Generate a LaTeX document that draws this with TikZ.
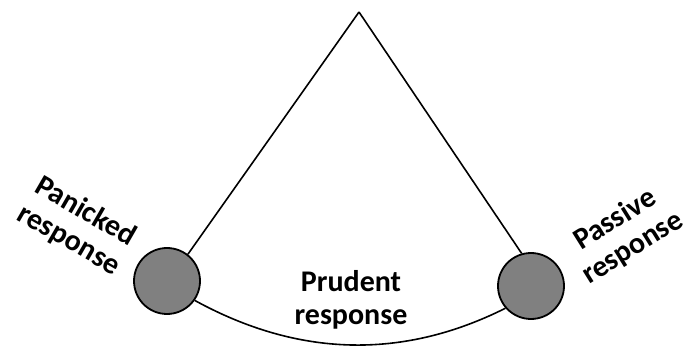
\documentclass[tikz,border=0pt]{standalone}
\usepackage{fontspec}
\setmainfont{Carlito}
\begin{document}
\begin{tikzpicture}[x=1pt,y=-1pt,
  ball/.style={circle,draw=black,line width=1.8pt,fill=black!50,minimum size=66pt,inner sep=0pt},
  rope/.style={line width=1.6pt},
  lbl/.style={font=\bfseries\fontsize{30}{33}\selectfont,align=center,inner sep=0pt}]
\useasboundingbox (0,0) rectangle (685,347);
\coordinate (apex) at (359,12);
\node[ball] (L) at (167,281) {};
\node[ball] (R) at (531,286) {};
\draw[rope] (apex) -- (L.52);
\draw[rope] (apex) -- (R.106);
\draw[rope] (L.-35) .. controls (298,357) and (402,360) .. (R.221);
\node[lbl] (prudent) at (351,300) {Prudent\\response};
\node[lbl,rotate=-30] (panicked) at (77,226) {Panicked\\response};
\node[lbl,rotate=32] (passive) at (624,234) {Passive\\response};
\end{tikzpicture}
\end{document}
